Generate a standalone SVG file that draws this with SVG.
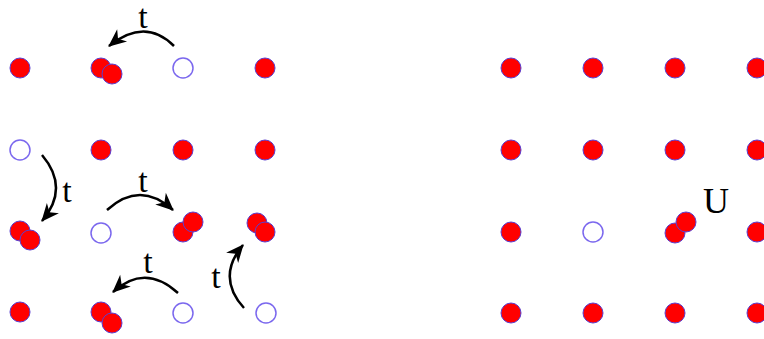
<svg xmlns="http://www.w3.org/2000/svg" width="764" height="339" viewBox="0 0 764 339">
<style>
.d{fill:#ff0000;stroke:#5a3fd0;stroke-width:1}
.h{fill:#ffffff;stroke:#7b68ee;stroke-width:1.5}
.a{fill:none;stroke:#000;stroke-width:2.5;marker-end:url(#ah)}
.t{font-family:"Liberation Serif",serif;font-size:34px;fill:#000;text-anchor:middle}
.u{font-family:"Liberation Serif",serif;font-size:36px;fill:#000;text-anchor:middle}
</style>
<defs>
<marker id="ah" markerUnits="userSpaceOnUse" markerWidth="20" markerHeight="20" viewBox="-17 -9 19 18" refX="0" refY="0" orient="auto">
<path d="M1,0 L-16,-7.5 L-11,0 L-16,7.5 Z" fill="#000"/>
</marker>
</defs>
<rect width="764" height="339" fill="#fff"/>
<g id="left-grid">
<g id="L11"><circle class="d" cx="20" cy="68" r="10"/></g>
<g id="L12"><circle class="d" cx="101" cy="68" r="10"/><circle class="d" cx="112" cy="74" r="10"/></g>
<g id="L13"><circle class="h" cx="183" cy="68" r="10"/></g>
<g id="L14"><circle class="d" cx="265" cy="68" r="10"/></g>
<g id="L21"><circle class="h" cx="20" cy="150" r="10"/></g>
<g id="L22"><circle class="d" cx="101" cy="150" r="10"/></g>
<g id="L23"><circle class="d" cx="183" cy="150" r="10"/></g>
<g id="L24"><circle class="d" cx="265" cy="150" r="10"/></g>
<g id="L31"><circle class="d" cx="20" cy="231" r="10"/><circle class="d" cx="30" cy="240" r="10"/></g>
<g id="L32"><circle class="h" cx="101" cy="233" r="10"/></g>
<g id="L33"><circle class="d" cx="183" cy="232" r="10"/><circle class="d" cx="193" cy="222" r="10"/></g>
<g id="L34"><circle class="d" cx="257" cy="223" r="10"/><circle class="d" cx="265" cy="232" r="10"/></g>
<g id="L41"><circle class="d" cx="20" cy="312" r="10"/></g>
<g id="L42"><circle class="d" cx="101" cy="312" r="10"/><circle class="d" cx="112" cy="323" r="10"/></g>
<g id="L43"><circle class="h" cx="183" cy="313" r="10"/></g>
<g id="L44"><circle class="h" cx="266" cy="313" r="10"/></g>
</g>
<g id="right-grid">
<g id="R11"><circle class="d" cx="511" cy="68" r="10"/></g>
<g id="R12"><circle class="d" cx="593" cy="68" r="10"/></g>
<g id="R13"><circle class="d" cx="675" cy="68" r="10"/></g>
<g id="R14"><circle class="d" cx="757" cy="68" r="10"/></g>
<g id="R21"><circle class="d" cx="511" cy="150" r="10"/></g>
<g id="R22"><circle class="d" cx="593" cy="150" r="10"/></g>
<g id="R23"><circle class="d" cx="675" cy="150" r="10"/></g>
<g id="R24"><circle class="d" cx="757" cy="150" r="10"/></g>
<g id="R31"><circle class="d" cx="511" cy="232" r="10"/></g>
<g id="R32"><circle class="h" cx="593" cy="232" r="10"/></g>
<g id="R33"><circle class="d" cx="675" cy="233" r="10"/><circle class="d" cx="686" cy="222" r="10"/></g>
<g id="R34"><circle class="d" cx="757" cy="232" r="10"/></g>
<g id="R41"><circle class="d" cx="511" cy="313" r="10"/></g>
<g id="R42"><circle class="d" cx="593" cy="313" r="10"/></g>
<g id="R43"><circle class="d" cx="675" cy="313" r="10"/></g>
<g id="R44"><circle class="d" cx="757" cy="313" r="10"/></g>
<g id="U-label"><text class="u" x="716" y="213">U</text></g>
</g>
<g id="connectors">
<path class="a" d="M174,46 Q145,17 109,46"/>
<path class="a" d="M42,155 Q70,188 42,221"/>
<path class="a" d="M107,210 Q140,180 173,210"/>
<path class="a" d="M178,293 Q145,263 113,292"/>
<path class="a" d="M244,308 Q216,277 243,245"/>
<text class="t" x="143" y="28">t</text>
<text class="t" x="67" y="202">t</text>
<text class="t" x="143" y="192">t</text>
<text class="t" x="148" y="273">t</text>
<text class="t" x="216" y="288">t</text>
</g>
</svg>
